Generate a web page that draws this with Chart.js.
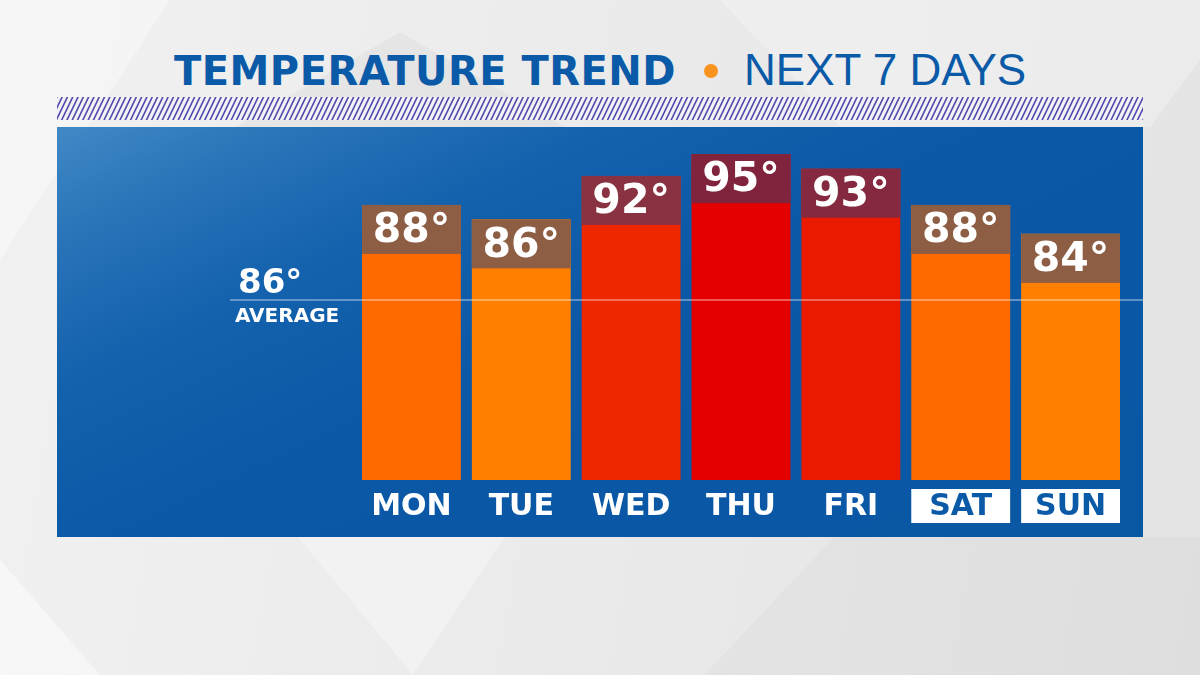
<!DOCTYPE html>
<html lang="en">
<head>
    <meta charset="UTF-8">
    <title>Temperature Trend - Next 7 Days</title>
    <script src="https://cdn.jsdelivr.net/npm/chart.js"></script>
    <style>
        html, body { margin: 0; padding: 0; }
        body {
            width: 1200px; height: 675px; position: relative; overflow: hidden;
            background: linear-gradient(100deg, #f1f1f1 0%, #ebebeb 45%, #e3e3e3 100%);
            font-family: "DejaVu Sans", sans-serif;
        }
        .shape { position: absolute; left: 0; top: 0; width: 1200px; height: 675px; }
        #s1 { background: rgba(0,0,0,0.03); clip-path: polygon(400px 32px, 570px 130px, 230px 130px); }
        #s2 { background: rgba(255,255,255,0.35); clip-path: polygon(0 0, 170px 0, 0 260px); }
        #s3 { background: rgba(0,0,0,0.02); clip-path: polygon(834px 537px, 1200px 537px, 1200px 675px, 704px 675px); }
        #s4 { background: rgba(255,255,255,0.3); clip-path: polygon(298px 537px, 505px 537px, 413px 675px); }
        #s5 { background: rgba(255,255,255,0.45); clip-path: polygon(0 560px, 100px 675px, 0 675px); }
        #s6 { background: rgba(255,255,255,0.25); clip-path: polygon(720px 0, 1200px 0, 1200px 60px, 1150px 127px, 840px 127px); }
        #title {
            position: absolute; left: 0; top: 42px; width: 1200px; text-align: center;
            font-size: 40px; line-height: 56px; color: #0b5aa8; white-space: nowrap;
        }
        #title b { font-weight: bold; letter-spacing: 0.5px; }
        #title .dot { display: inline-block; width: 14px; height: 14px; border-radius: 7px; background: #f7931e; margin: 0 26px 0 28px; vertical-align: middle; position: relative; top: -3px; }
        #title .sub { font-family: "Liberation Sans", sans-serif; font-size: 44px; }
        #panel {
            position: absolute; left: 57px; top: 127px; width: 1086px; height: 410px;
            background:
                linear-gradient(155deg, #4189c6 0%, #2a74b9 12%, #1462ad 28%, #0a58a6 50%, #0a57a4 100%);
        }
        #chart { position: absolute; left: 0; top: 0; }
    </style>
</head>
<body>
<div class="shape" id="s1"></div>
<div class="shape" id="s2"></div>
<div class="shape" id="s3"></div>
<div class="shape" id="s4"></div>
<div class="shape" id="s5"></div>
<div class="shape" id="s6"></div>
<div id="title"><b>TEMPERATURE TREND</b><span class="dot"></span><span class="sub">NEXT 7 DAYS</span></div>
<div id="panel"></div>
<canvas id="chart" width="1200" height="675"></canvas>

<script>
    // forecast data
    const days = ['MON', 'TUE', 'WED', 'THU', 'FRI', 'SAT', 'SUN'];
    const highs = [88, 86, 92, 95, 93, 88, 84];
    const weekendDays = ['SAT', 'SUN'];
    const averageHigh = 86;

    // colours per bar
    const bodyColors = ['#ff6a00', '#ff8000', '#ee2700', '#e50000', '#ea1a00', '#ff6a00', '#ff8000'];
    const capColors = ['#8d5d44', '#8d5d44', '#893241', '#80243d', '#84293f', '#8d5d44', '#8d5d44'];

    const capHeight = 49;

    const decorPlugin = {
        id: 'decor',
        beforeDraw(chart) {
            // hatched strip under the title
            const ctx = chart.ctx;
            ctx.save();
            ctx.beginPath();
            ctx.rect(57, 97, 1086, 23);
            ctx.clip();
            ctx.fillStyle = '#f3f3f6';
            ctx.fillRect(57, 97, 1086, 23);
            ctx.strokeStyle = '#4f4aad';
            ctx.lineWidth = 1.6;
            for (let x = 40; x < 1160; x += 5.3) {
                ctx.beginPath();
                ctx.moveTo(x, 121);
                ctx.lineTo(x + 12, 96);
                ctx.stroke();
            }
            ctx.restore();
        },
        afterDatasetsDraw(chart) {
            const ctx = chart.ctx;
            const meta = chart.getDatasetMeta(0);
            const area = chart.chartArea;
            ctx.save();
            // value caps on top of each bar
            meta.data.forEach((bar, i) => {
                const left = bar.x - bar.width / 2;
                ctx.fillStyle = capColors[i];
                ctx.fillRect(left, bar.y, bar.width, capHeight);
                ctx.fillStyle = '#ffffff';
                ctx.font = 'bold 41px "DejaVu Sans"';
                ctx.textAlign = 'center';
                ctx.textBaseline = 'middle';
                ctx.fillText(highs[i] + '°', bar.x, bar.y + capHeight / 2 + 2);
            });
            // day labels
            meta.data.forEach((bar, i) => {
                const left = bar.x - bar.width / 2;
                const weekend = weekendDays.includes(days[i]);
                if (weekend) {
                    ctx.fillStyle = '#ffffff';
                    ctx.fillRect(left, area.bottom + 9, bar.width, 34);
                }
                ctx.fillStyle = weekend ? '#0b5aa8' : '#ffffff';
                ctx.font = 'bold 30px "DejaVu Sans"';
                ctx.textAlign = 'center';
                ctx.textBaseline = 'middle';
                ctx.fillText(days[i], bar.x, area.bottom + 27);
            });
            // average line and label
            const avgY = 300;
            ctx.strokeStyle = 'rgba(255,255,255,0.35)';
            ctx.lineWidth = 2;
            ctx.beginPath();
            ctx.moveTo(230, avgY);
            ctx.lineTo(1143, avgY);
            ctx.stroke();
            ctx.fillStyle = '#ffffff';
            ctx.textAlign = 'left';
            ctx.textBaseline = 'alphabetic';
            ctx.font = 'bold 34px "DejaVu Sans"';
            ctx.fillText(averageHigh + '°', 238, 293);
            ctx.font = 'bold 20px "DejaVu Sans"';
            ctx.fillText('AVERAGE', 235, 322);
            ctx.restore();
        }
    };

    new Chart(document.getElementById('chart').getContext('2d'), {
        type: 'bar',
        data: {
            labels: days,
            datasets: [{
                data: highs,
                backgroundColor: bodyColors,
                borderWidth: 0,
                categoryPercentage: 0.9,
                barPercentage: 1.0
            }]
        },
        options: {
            responsive: false,
            animation: false,
            events: [],
            layout: { padding: { left: 356.5, right: 74.5, top: 118, bottom: 195 } },
            plugins: { legend: { display: false }, tooltip: { enabled: false } },
            scales: {
                x: { display: false },
                y: { display: false, min: 50, max: 100 }
            }
        },
        plugins: [decorPlugin]
    });
</script>
</body>
</html>
